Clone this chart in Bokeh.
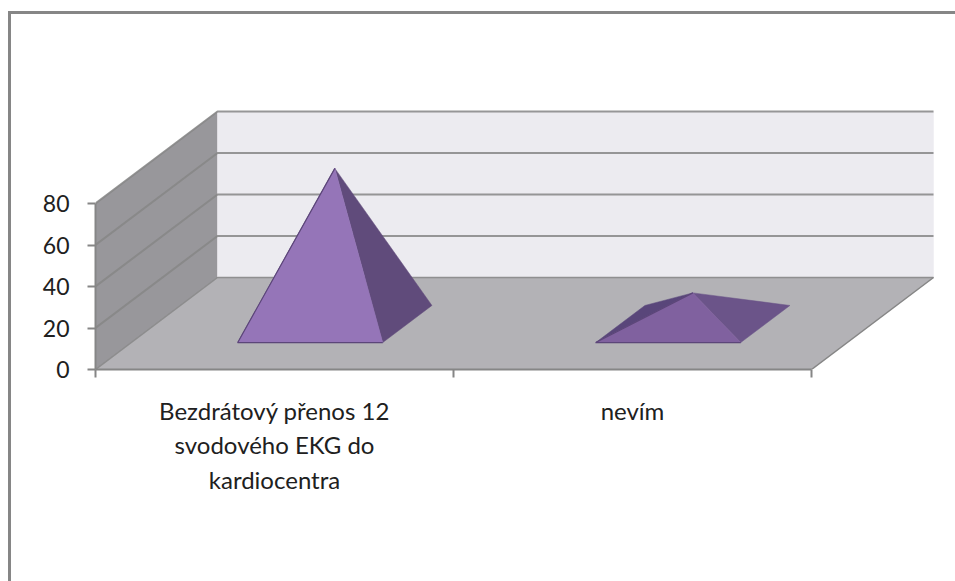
from bokeh.embed import file_html
from bokeh.models import FixedTicker, LinearAxis, Range1d
from bokeh.plotting import figure
from bokeh.resources import INLINE

# Chart data
categories = ["Bezdrátový přenos 12\nsvodového EKG do\nkardiocentra", "nevím"]
values = [75, 15]
value_ticks = [0, 20, 40, 60, 80]
category_edges = [0, 1, 2]

# Fill colours of each pyramid's faces: front, right, left
face_colours = [
    ("#9575b8", "#604b7b", "#604b7b"),
    ("#80619f", "#6b5489", "#59467a"),
]

# Screen scale of the two axes, and the oblique projection built on them:
# how far one full unit of depth shifts a point
X_SCALE = 358
Y_SCALE = 2.075
DEPTH_DX = 122 / X_SCALE
DEPTH_DY = 92 / Y_SCALE
BASE_HALF_WIDTH = 0.2025
BASE_FRONT, BASE_BACK = 0.293, 0.696
AXIS_COLOUR = "#868686"
FONT = "Lato"


def project(x, v, depth):
    return x + depth * DEPTH_DX, v + depth * DEPTH_DY


def polygon(points):
    xy = [project(*pt) for pt in points]
    return [c[0] for c in xy], [c[1] for c in xy]


p = figure(
    width=947, height=570, margin=(11, 0, 0, 8),
    output_backend="svg", toolbar_location=None,
    x_range=Range1d(0, 863 / X_SCALE), y_range=Range1d(0, 354 / Y_SCALE),
    min_border_left=84, min_border_right=0, min_border_top=1, min_border_bottom=215,
    x_axis_location=None, y_axis_location=None,
    outline_line_color=None, background_fill_color="white", border_fill_color="white",
    styles={
        "border-left": f"3px solid {AXIS_COLOUR}",
        "border-top": f"3px solid {AXIS_COLOUR}",
    },
)
p.grid.visible = False

top = value_ticks[-1]
n = category_edges[-1]

# Walls and floor
for pts, colour in [
    ([(0, 0, 0), (0, 0, 1), (0, top, 1), (0, top, 0)], "#98979b"),
    ([(0, 0, 1), (n, 0, 1), (n, top, 1), (0, top, 1)], "#ecebf0"),
    ([(0, 0, 0), (n, 0, 0), (n, 0, 1), (0, 0, 1)], "#b3b2b6"),
]:
    xs, ys = polygon(pts)
    p.patch(xs, ys, fill_color=colour, line_color=colour, line_width=0.5)

# Gridlines run across the back wall and down the side wall
for v in value_ticks:
    xs, ys = polygon([(0, v, 0), (0, v, 1), (n, v, 1)])
    p.line(xs, ys, line_color=AXIS_COLOUR, line_width=2 if v else 1.5, line_alpha=0.85)

# Floor's right edge
xs, ys = polygon([(n, 0, 0), (n, 0, 1)])
p.line(xs, ys, line_color=AXIS_COLOUR, line_width=1.5)

# Pyramids
for i, (value, colours) in enumerate(zip(values, face_colours)):
    c = i + 0.5
    mid = (BASE_FRONT + BASE_BACK) / 2
    fl = (c - BASE_HALF_WIDTH, 0, BASE_FRONT)
    fr = (c + BASE_HALF_WIDTH, 0, BASE_FRONT)
    br = (c + BASE_HALF_WIDTH, 0, BASE_BACK)
    bl = (c - BASE_HALF_WIDTH, 0, BASE_BACK)
    apex = (c, value, mid)
    front, right, left = colours
    for pts, colour in [
        ([fl, bl, apex], left),
        ([fr, br, apex], right),
        ([fl, fr, apex], front),
    ]:
        xs, ys = polygon(pts)
        p.patch(xs, ys, fill_color=colour, line_color=colour, line_width=0.5)
    xs, ys = polygon([fr, fl, apex])
    p.line(xs, ys, line_color="#5c4679", line_width=1.2)

# Value axis along the front edge of the side wall
y_axis = LinearAxis(
    ticker=FixedTicker(ticks=value_ticks), bounds=(0, top),
    axis_line_color=AXIS_COLOUR, axis_line_width=2,
    major_tick_line_color=AXIS_COLOUR, major_tick_line_width=2,
    major_tick_in=0, major_tick_out=8, minor_tick_line_color=None,
    major_label_text_font=FONT, major_label_text_font_size="23px",
    major_label_text_color="#202020", major_label_standoff=18,
)
p.add_layout(y_axis, "left")

# Category axis: tick marks between categories
x_axis = LinearAxis(
    ticker=FixedTicker(ticks=category_edges), bounds=(0, n),
    major_label_overrides={t: "" for t in category_edges},
    axis_line_color=AXIS_COLOUR, axis_line_width=2,
    major_tick_line_color=AXIS_COLOUR, major_tick_line_width=2,
    major_tick_in=0, major_tick_out=8, minor_tick_line_color=None,
    major_label_text_font_size="1px", major_label_standoff=0,
)
p.add_layout(x_axis, "below")

# Category names centred on each category
centres = [i + 0.5 for i in range(len(categories))]
label_axis = LinearAxis(
    ticker=FixedTicker(ticks=centres),
    major_label_overrides={c: t for c, t in zip(centres, categories)},
    axis_line_color=None, major_tick_line_color=None, minor_tick_line_color=None,
    major_label_text_font=FONT, major_label_text_font_size="24px",
    major_label_text_color="#202020", major_label_standoff=12,
)
p.add_layout(label_axis, "below")

open("out.html", "w").write(file_html(p, INLINE))
